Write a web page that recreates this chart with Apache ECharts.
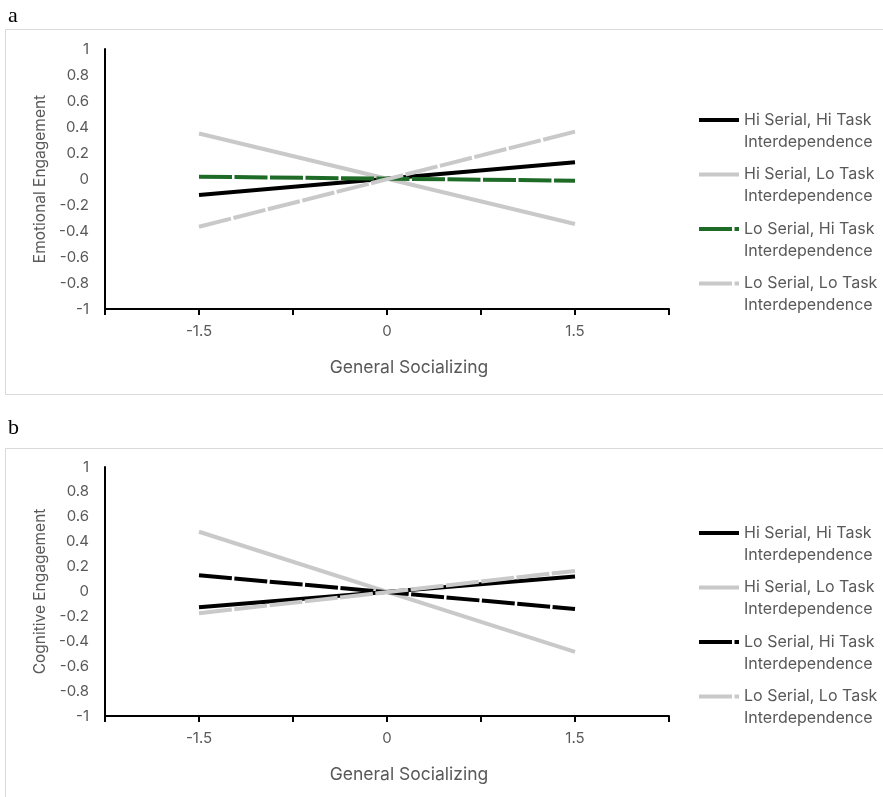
<!DOCTYPE html>
<html>
<head>
<meta charset="utf-8">
<script src="https://cdn.jsdelivr.net/npm/echarts@6/dist/echarts.min.js"></script>
<style>
html,body{margin:0;padding:0;background:#fff;}
#chart{width:883px;height:797px;}
</style>
</head>
<body>
<div id="chart"></div>
<script>
// ---- data ----
const xPoints = [-1.5, 1.5];
const xTickLabels = ['-1.5', '0', '1.5'];
const seriesNames = [
  'Hi Serial, Hi Task Interdependence',
  'Hi Serial, Lo Task Interdependence',
  'Lo Serial, Hi Task Interdependence',
  'Lo Serial, Lo Task Interdependence'
];
// panel a: Emotional Engagement
const aHiHi = [-0.123, 0.128];
const aHiLo = [0.350, -0.346];
const aLoHi = [0.018, -0.013];
const aLoLo = [-0.367, 0.364];
// panel b: Cognitive Engagement
const bHiHi = [-0.127, 0.120];
const bHiLo = [0.480, -0.485];
const bLoHi = [0.130, -0.140];
const bLoLo = [-0.175, 0.165];

const TXT = '#595959';
const FONT = 'Inter';
const GREY = '#c9c9c9';
const DASH = [33, 2.5];

function pts(vals){ return xPoints.map((x,i)=>[x, vals[i]]); }
function dispName(n){
  const base = n.replace(/^[ab]:/, '');
  const parts = base.split(' Interdependence');
  return '\n' + parts[0] + '\nInterdependence';
}

function mkSeries(panel, idx, vals, color, dashed){
  return {
    type: 'line',
    name: panel + ':' + seriesNames[idx],
    xAxisIndex: panel === 'a' ? 0 : 1,
    yAxisIndex: panel === 'a' ? 0 : 1,
    data: pts(vals),
    symbol: 'none',
    showSymbol: false,
    silent: true,
    animation: false,
    lineStyle: {
      color: color,
      width: 4,
      type: dashed ? DASH : 'solid',
      cap: 'butt'
    },
    itemStyle: { color: color }
  };
}

function xAxisCfg(gi){
  return {
    type: 'value', gridIndex: gi,
    min: -2.25, max: 2.25, interval: 0.75,
    name: 'General Socializing',
    nameLocation: 'middle', nameGap: 50,
    nameTextStyle: { color: TXT, fontFamily: FONT, fontSize: 17.5, padding: [0, 0, 0, 44] },
    axisLine: { onZero: false, lineStyle: { color: '#000', width: 2 } },
    axisTick: { show: true, length: 6, lineStyle: { color: '#000', width: 2 } },
    axisLabel: {
      color: TXT, fontFamily: FONT, fontSize: 15, margin: 15,
      formatter: function(v){
        const s = String(Math.round(v*100)/100);
        return xTickLabels.indexOf(s) >= 0 ? s : '';
      }
    },
    splitLine: { show: false }
  };
}
function yAxisCfg(gi, title){
  return {
    type: 'value', gridIndex: gi,
    min: -1, max: 1, interval: 0.2,
    name: title,
    nameLocation: 'middle', nameGap: 54,
    nameTextStyle: { color: TXT, fontFamily: FONT, fontSize: 15.5 },
    axisLine: { show: true, onZero: false, lineStyle: { color: '#000', width: 2 } },
    axisTick: { show: false },
    axisLabel: {
      color: TXT, fontFamily: FONT, fontSize: 15, margin: 16,
      formatter: function(v){ return String(Math.round(v*10)/10); }
    },
    splitLine: { show: false }
  };
}
function legendCfg(panel, top){
  return {
    orient: 'vertical',
    left: 692, top: top,
    itemWidth: 40, itemHeight: 2, itemGap: -11.5,
    selectedMode: false,
    data: seriesNames.map(n => panel + ':' + n),
    formatter: dispName,
    lineStyle: { width: 4, cap: 'butt' },
    textStyle: { color: TXT, fontFamily: FONT, fontSize: 16, lineHeight: 22 }
  };
}

const chart = echarts.init(document.getElementById('chart'), null, { renderer: 'canvas' });
chart.setOption({
  animation: false,
  backgroundColor: '#fff',
  grid: [
    { left: 105, top: 49, width: 564, height: 260 },
    { left: 105, top: 467, width: 564, height: 249 }
  ],
  xAxis: [xAxisCfg(0), xAxisCfg(1)],
  yAxis: [yAxisCfg(0, 'Emotional Engagement'), yAxisCfg(1, 'Cognitive Engagement')],
  legend: [legendCfg('a', 82), legendCfg('b', 495)],
  graphic: [
    { type: 'rect', silent: true, z: -1, shape: { x: 5.5, y: 29.5, width: 890, height: 365 },
      style: { fill: 'none', stroke: '#d9d9d9', lineWidth: 1 } },
    { type: 'rect', silent: true, z: -1, shape: { x: 5.5, y: 448.5, width: 890, height: 400 },
      style: { fill: 'none', stroke: '#d9d9d9', lineWidth: 1 } },
    { type: 'text', left: 8, top: 5, style: { text: 'a', fill: '#000', font: '22px "Liberation Serif", serif' } },
    { type: 'text', left: 8, top: 417, style: { text: 'b', fill: '#000', font: '22px "Liberation Serif", serif' } }
  ],
  series: [
    mkSeries('a', 0, aHiHi, '#000000', false),
    mkSeries('a', 1, aHiLo, GREY, false),
    mkSeries('a', 2, aLoHi, '#1e6b27', true),
    mkSeries('a', 3, aLoLo, GREY, true),
    mkSeries('b', 0, bHiHi, '#000000', false),
    mkSeries('b', 1, bHiLo, GREY, false),
    mkSeries('b', 2, bLoHi, '#000000', true),
    mkSeries('b', 3, bLoLo, GREY, true)
  ]
});
</script>
</body>
</html>
